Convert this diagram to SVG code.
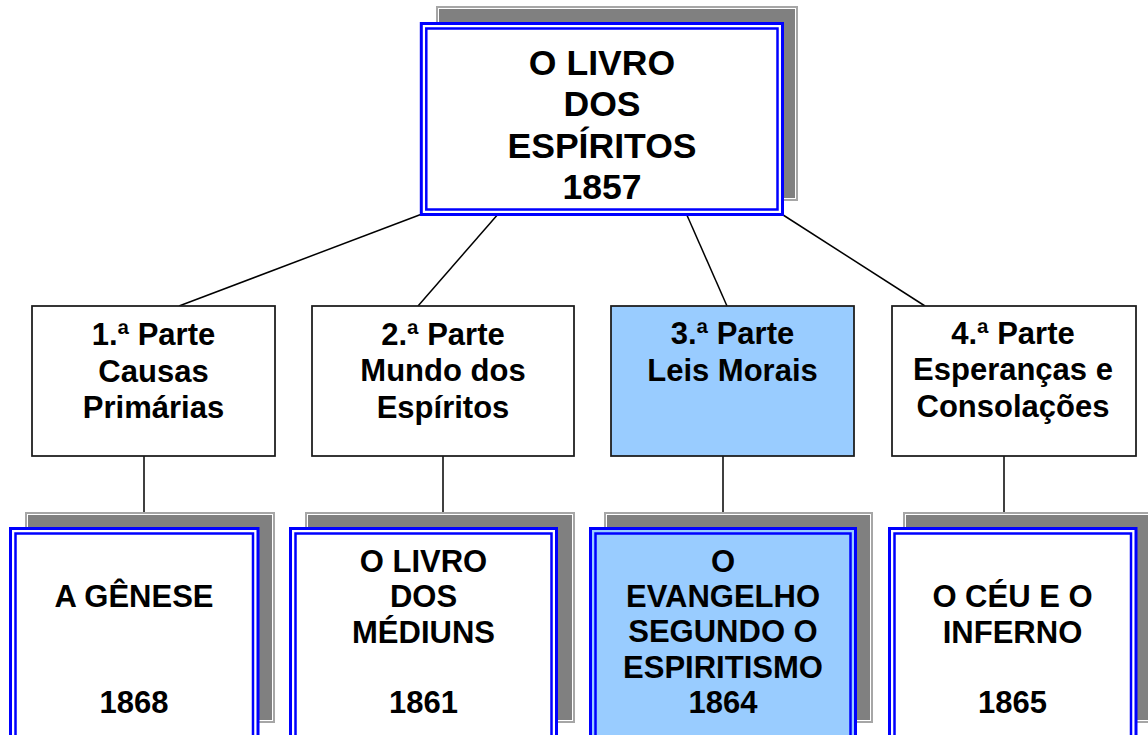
<svg xmlns="http://www.w3.org/2000/svg" width="1148" height="735" viewBox="0 0 1148 735">
<style>
  text { font-family: "Liberation Sans", Arial, sans-serif; font-weight: bold; fill: #000; text-anchor: middle; }
  .t35 { font-size: 35.6px; }
  .t30 { font-size: 31px; }
  .shadow { fill: #808080; stroke: #a6a6a6; stroke-width: 2; }
  .shadowIn { fill: none; stroke: #ffffff; stroke-width: 1; }
  .outerB { stroke: #0000ff; stroke-width: 3; }
  .innerB { fill: none; stroke: #0000ff; stroke-width: 2.5; }
  .part { stroke: #1a1a1a; stroke-width: 1.75; }
  .conn line { stroke: #000; stroke-width: 1.5; }
</style>
<rect width="1148" height="735" fill="#ffffff"/>

<g class="conn" id="connectors">
  <line x1="422" y1="214" x2="179" y2="306"/>
  <line x1="499" y1="213" x2="418" y2="306"/>
  <line x1="686" y1="213" x2="727" y2="306"/>
  <line x1="780" y1="213" x2="925" y2="306"/>
  <line x1="144" y1="456" x2="144" y2="512"/>
  <line x1="443" y1="456" x2="443" y2="512"/>
  <line x1="723" y1="456" x2="723" y2="512"/>
  <line x1="1004" y1="456" x2="1004" y2="512"/>
</g>

<g id="livro-espiritos">
  <rect class="shadow" x="437" y="7" width="360" height="193"/>
  <rect class="shadowIn" x="438.5" y="8.5" width="357" height="190"/>
  <rect class="outerB" x="421.3" y="23.5" width="361.2" height="191" fill="#ffffff"/>
  <rect class="innerB" x="426.3" y="28.5" width="351.2" height="181"/>
  <text class="t35" x="602" y="74.5">O LIVRO</text>
  <text class="t35" x="602" y="116">DOS</text>
  <text class="t35" x="602" y="157.5">ESPÍRITOS</text>
  <text class="t35" x="602" y="199">1857</text>
</g>

<g id="parte1">
  <rect class="part" x="32" y="306" width="243" height="150" fill="#ffffff"/>
  <text class="t30" x="153.5" y="345">1.ª Parte</text>
  <text class="t30" x="153.5" y="382">Causas</text>
  <text class="t30" x="153.5" y="418">Primárias</text>
</g>

<g id="parte2">
  <rect class="part" x="312" y="306" width="262" height="150" fill="#ffffff"/>
  <text class="t30" x="443" y="345">2.ª Parte</text>
  <text class="t30" x="443" y="381">Mundo dos</text>
  <text class="t30" x="443" y="418">Espíritos</text>
</g>

<g id="parte3">
  <rect class="part" x="611" y="306" width="243" height="150" fill="#99ccff"/>
  <text class="t30" x="732.5" y="344">3.ª Parte</text>
  <text class="t30" x="732.5" y="381">Leis Morais</text>
</g>

<g id="parte4">
  <rect class="part" x="892" y="306" width="244" height="150" fill="#ffffff"/>
  <text class="t30" x="1013" y="344">4.ª Parte</text>
  <text class="t30" x="1013" y="380">Esperanças e</text>
  <text class="t30" x="1013" y="417">Consolações</text>
</g>

<g id="genese">
  <rect class="shadow" x="26" y="513" width="248" height="209"/>
  <rect class="shadowIn" x="27.5" y="514.5" width="245" height="206"/>
  <rect class="outerB" x="10.5" y="528.5" width="247.5" height="215" fill="#ffffff"/>
  <rect class="innerB" x="15.5" y="533.5" width="237.5" height="205"/>
  <text class="t30" x="134" y="607">A GÊNESE</text>
  <text class="t30" x="134" y="713">1868</text>
</g>

<g id="mediuns">
  <rect class="shadow" x="306" y="513" width="268" height="209"/>
  <rect class="shadowIn" x="307.5" y="514.5" width="265" height="206"/>
  <rect class="outerB" x="290.5" y="528.5" width="266" height="215" fill="#ffffff"/>
  <rect class="innerB" x="295.5" y="533.5" width="256" height="205"/>
  <text class="t30" x="423.5" y="572">O LIVRO</text>
  <text class="t30" x="423.5" y="607">DOS</text>
  <text class="t30" x="423.5" y="643">MÉDIUNS</text>
  <text class="t30" x="423.5" y="713">1861</text>
</g>

<g id="evangelho">
  <rect class="shadow" x="605" y="513" width="267" height="209"/>
  <rect class="shadowIn" x="606.5" y="514.5" width="264" height="206"/>
  <rect class="outerB" x="590.5" y="528.5" width="265" height="215" fill="#99ccff"/>
  <rect class="innerB" x="595.5" y="533.5" width="255" height="205"/>
  <text class="t30" x="723" y="572">O</text>
  <text class="t30" x="723" y="607">EVANGELHO</text>
  <text class="t30" x="723" y="642">SEGUNDO O</text>
  <text class="t30" x="723" y="678">ESPIRITISMO</text>
  <text class="t30" x="723" y="713">1864</text>
</g>

<g id="ceu-inferno">
  <rect class="shadow" x="904" y="513" width="248" height="209"/>
  <rect class="shadowIn" x="905.5" y="514.5" width="245" height="206"/>
  <rect class="outerB" x="889.5" y="528.5" width="246.5" height="215" fill="#ffffff"/>
  <rect class="innerB" x="894.5" y="533.5" width="236.5" height="205"/>
  <text class="t30" x="1012.5" y="607">O CÉU E O</text>
  <text class="t30" x="1012.5" y="643">INFERNO</text>
  <text class="t30" x="1012.5" y="713">1865</text>
</g>
</svg>
